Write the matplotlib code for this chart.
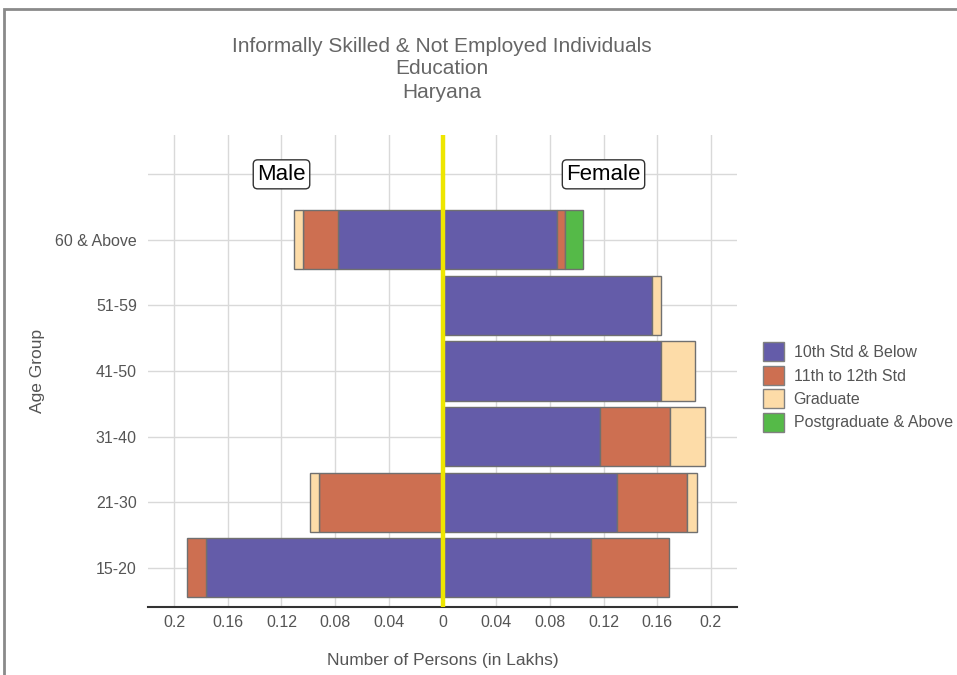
import numpy as np
import matplotlib
matplotlib.use("Agg")
import matplotlib.pyplot as plt
from matplotlib.patches import Rectangle, Patch

plt.rcParams['font.family'] = ['Liberation Sans', 'DejaVu Sans']

# data (in lakhs)
ages = ['15-20', '21-30', '31-40', '41-50', '51-59', '60 & Above']
levels = ['10th Std & Below', '11th to 12th Std', 'Graduate', 'Postgraduate & Above']
colors = ['#645CA9', '#CD6F51', '#FDDCA8', '#55BA48']

male_10th = [0.1765, 0.0, 0.0, 0.0, 0.0, 0.0781]
male_11_12 = [0.0137, 0.0917, 0.0, 0.0, 0.0, 0.0256]
male_grad = [0.0, 0.0069, 0.0, 0.0, 0.0, 0.0067]
male_pg = [0.0, 0.0, 0.0, 0.0, 0.0, 0.0]

female_10th = [0.1108, 0.1300, 0.1177, 0.1627, 0.1560, 0.0851]
female_11_12 = [0.0583, 0.0525, 0.0515, 0.0, 0.0, 0.0062]
female_grad = [0.0, 0.0069, 0.0261, 0.0256, 0.0065, 0.0]
female_pg = [0.0, 0.0, 0.0, 0.0, 0.0, 0.0137]

xticks = [-0.2, -0.16, -0.12, -0.08, -0.04, 0, 0.04, 0.08, 0.12, 0.16, 0.2]
xticklabels = ['0.2', '0.16', '0.12', '0.08', '0.04', '0', '0.04', '0.08', '0.12', '0.16', '0.2']

fig = plt.figure(figsize=(9.57, 6.75), dpi=100)
ax = fig.add_axes([148/957, 1-607/675, (737-148)/957, (607-135)/675])

# figure border
fig.patches.append(Rectangle((4/957, -0.05), 1.05, 1-9/675+0.05, transform=fig.transFigure,
                             fill=False, edgecolor='#8a8a8a', linewidth=2))

ypos = np.arange(1, len(ages)+1)
male = [male_10th, male_11_12, male_grad, male_pg]
female = [female_10th, female_11_12, female_grad, female_pg]

def draw_side(series, sign):
    base = np.zeros(len(ages))
    for vals, c in zip(series, colors):
        vals = np.array(vals)
        for i in range(len(ages)):
            if vals[i] > 0:
                ax.barh(ypos[i], sign*vals[i], left=sign*base[i], height=0.9,
                        color=c, edgecolor='#707070', linewidth=1, zorder=3)
        base = base + vals

draw_side(male, -1)
draw_side(female, 1)

ax.axvline(0, color='#EEE600', linewidth=3.2, zorder=4)

ax.set_xlim(-0.2195, 0.2195)
ax.set_ylim(0.4, 7.6)
ax.set_xticks(xticks)
ax.set_xticklabels(xticklabels)
ax.set_yticks(ypos)
ax.set_yticklabels(ages)
for y in list(ypos) + [7]:
    ax.axhline(y, color='#d9d9d9', linewidth=1, zorder=0)
ax.grid(axis='x', color='#d9d9d9', linewidth=1, zorder=0)
ax.tick_params(length=0, labelsize=11.5, labelcolor='#555555')
ax.tick_params(axis='x', pad=6)
ax.tick_params(axis='y', pad=8)
for s in ['top', 'right', 'left']:
    ax.spines[s].set_visible(False)
ax.spines['bottom'].set_color('#333333')
ax.spines['bottom'].set_linewidth(1.5)

box = dict(boxstyle='round,pad=0.18,rounding_size=0.2', facecolor='white', edgecolor='#333333', linewidth=1)
ax.text(-0.12, 7, 'Male', ha='center', va='center', fontsize=16, bbox=box, zorder=5)
ax.text(0.12, 7, 'Female', ha='center', va='center', fontsize=16, bbox=box, zorder=5)

ax.set_xlabel('Number of Persons (in Lakhs)', fontsize=12.5, color='#555555', labelpad=16)
ax.set_ylabel('Age Group', fontsize=12.5, color='#555555', labelpad=10)
ax.yaxis.set_label_coords(-(148-45)/589, 0.5)

fig.text(442/957, 1-46/675, 'Informally Skilled & Not Employed Individuals', ha='center', va='center',
         fontsize=15, color='#666666')
fig.text(442/957, 1-69/675, 'Education', ha='center', va='center', fontsize=15, color='#666666')
fig.text(442/957, 1-93/675, 'Haryana', ha='center', va='center', fontsize=15, color='#666666')

handles = [Patch(facecolor=c, edgecolor='#808080', linewidth=1) for c in colors]
fig.legend(handles, levels, loc='upper left', bbox_to_anchor=(757/957, 1-336/675),
           frameon=False, fontsize=11.5, labelcolor='#555555', handlelength=1.3, handleheight=1.45,
           handletextpad=0.6, labelspacing=0.28, borderaxespad=0)

fig.savefig('out.png', dpi=100)
